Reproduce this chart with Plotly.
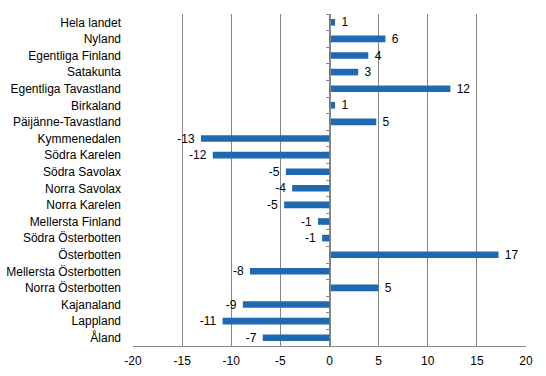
import plotly.graph_objects as go

regions = ["Hela landet", "Nyland", "Egentliga Finland", "Satakunta", "Egentliga Tavastland",
           "Birkaland", "Päijänne-Tavastland", "Kymmenedalen", "Södra Karelen", "Södra Savolax",
           "Norra Savolax", "Norra Karelen", "Mellersta Finland", "Södra Österbotten", "Österbotten",
           "Mellersta Österbotten", "Norra Österbotten", "Kajanaland", "Lappland", "Åland"]
values = [0.57, 5.69, 3.95, 2.92, 12.3, 0.57, 4.76, -13.08, -11.88, -4.44,
          -3.80, -4.62, -1.17, -0.75, 17.2, -8.1, 4.98, -8.82, -10.88, -6.79]
labels = ["1", "6", "4", "3", "12", "1", "5", "-13", "-12", "-5",
          "-4", "-5", "-1", "-1", "17", "-8", "5", "-9", "-11", "-7"]
x_ticks = [-20, -15, -10, -5, 0, 5, 10, 15, 20]

font = dict(family="Liberation Sans, Arial, sans-serif", size=12, color="#000000")
grey = "#868686"
nb = "\u00a0"
shown = [(nb + t) if v >= 0 else (t + nb) for t, v in zip(labels, values)]
n = len(regions)

fig = go.Figure()
fig.add_trace(go.Bar(
    x=values, y=regions, orientation="h",
    marker=dict(color="#1F69B3", line=dict(width=0)),
    text=shown, textposition="outside", textfont=font,
    constraintext="none", cliponaxis=False, hoverinfo="skip",
))
# invisible helper trace to draw the category axis at x = 0
fig.add_trace(go.Scatter(
    x=[0] * n, y=regions, yaxis="y2", mode="markers",
    marker=dict(opacity=0), hoverinfo="skip", showlegend=False,
))

yrange = [n - 0.5, -0.5]
fig.update_layout(
    width=546, height=376,
    margin=dict(l=133, r=20, t=14, b=30, autoexpand=False),
    paper_bgcolor="white", plot_bgcolor="white",
    showlegend=False, bargap=0.6,
    font=font,
    xaxis=dict(range=[-20, 20], tickvals=x_ticks, ticktext=[str(v) for v in x_ticks],
               showgrid=True, gridcolor=grey, gridwidth=1, automargin=False,
               zeroline=False, showline=True, linecolor=grey, linewidth=1,
               ticks="", tickfont=font, ticklabelstandoff=4, fixedrange=True),
    yaxis=dict(type="category", categoryorder="array", categoryarray=regions,
               range=yrange, autorange=False, automargin=False,
               showgrid=False, zeroline=False,
               showline=False, ticks="", tickfont=font, ticklabelstandoff=11),
    yaxis2=dict(type="category", categoryorder="array", categoryarray=regions,
                range=yrange, autorange=False, automargin=False,
                overlaying="y", anchor="free", position=0.5,
                showticklabels=False, showgrid=False, zeroline=False,
                showline=True, linecolor=grey, linewidth=1,
                ticks="outside", tickson="boundaries", ticklen=4, tickcolor=grey),
)

fig.write_html("out.html", config={"displayModeBar": False, "staticPlot": True},
               post_script="document.body.style.margin='0';")
